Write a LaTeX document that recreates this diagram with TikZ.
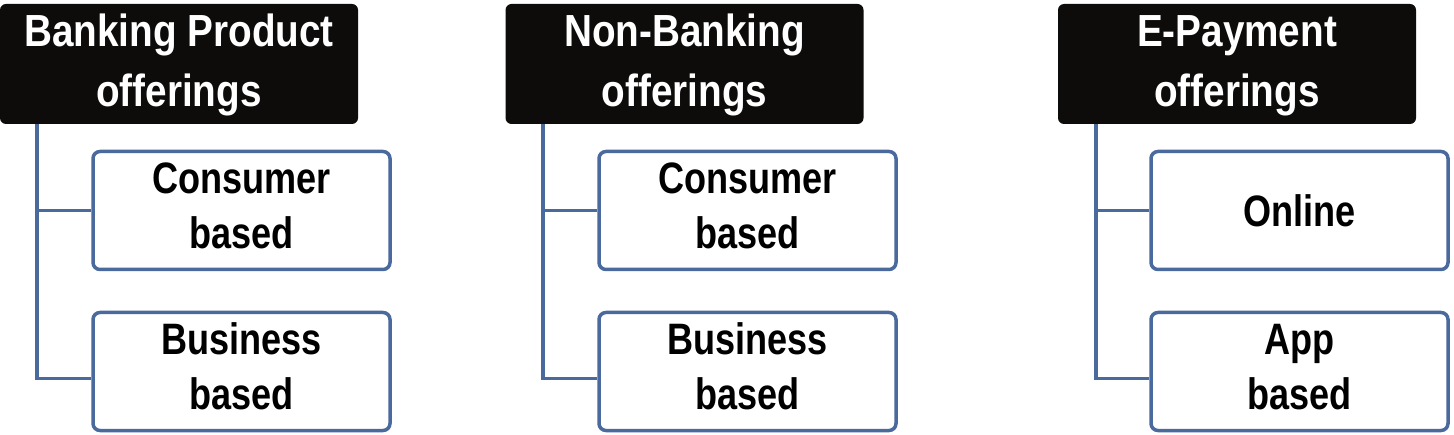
\documentclass[tikz,border=0pt]{standalone}
\usepackage{fontspec}
\newfontfamily\hdfont[FakeStretch=0.86]{Liberation Sans Bold}
\newfontfamily\chfont[FakeStretch=0.82]{Liberation Sans Bold}
\definecolor{linkblue}{HTML}{4A6A9E}
\definecolor{headblack}{HTML}{0D0C0B}
\begin{document}
\begin{tikzpicture}[x=1pt,y=1pt,
  header/.style={fill=headblack, draw=none, rounded corners=6pt, inner sep=0pt,
    minimum width=358pt, text=white, align=center,
    font=\hdfont\fontsize{45}{60}\selectfont, text height=103pt, text depth=17pt},
  child/.style={fill=white, draw=linkblue, line width=3.5pt, rounded corners=7pt, inner sep=0pt,
    minimum width=297pt, align=center,
    font=\chfont\fontsize{44}{55}\selectfont, text height=97pt, text depth=21pt},
  single/.style={text height=75pt, text depth=43pt},
  link/.style={draw=linkblue, line width=3.5pt}]
\useasboundingbox (0,0) rectangle (1454,434);
\fill[white] (0,0) rectangle (1454,434);
% group 1
\node[header] (h1) at (179,370) {Banking Product\\offerings};
\node[child] (c11) at (241.5,223.5) {Consumer\\based};
\node[child] (c12) at (241.5,62.5) {Business\\based};
\coordinate (v1) at (37,0);
% group 2
\node[header] (h2) at (684.5,370) {Non-Banking\\offerings};
\node[child] (c21) at (747.5,223.5) {Consumer\\based};
\node[child] (c22) at (747.5,62.5) {Business\\based};
\coordinate (v2) at (543,0);
% group 3
\node[header] (h3) at (1237,370) {E-Payment\\offerings};
\node[child,single] (c31) at (1299.5,223.5) {Online};
\node[child] (c32) at (1299.5,62.5) {App\\based};
\coordinate (v3) at (1096,0);
% connectors
\draw[link] (h1.south -| v1) |- (c11.west);
\draw[link] (h1.south -| v1) |- ([yshift=-7pt]c12.west);
\draw[link] (h2.south -| v2) |- (c21.west);
\draw[link] (h2.south -| v2) |- ([yshift=-7pt]c22.west);
\draw[link] (h3.south -| v3) |- (c31.west);
\draw[link] (h3.south -| v3) |- ([yshift=-7pt]c32.west);
\end{tikzpicture}
\end{document}
